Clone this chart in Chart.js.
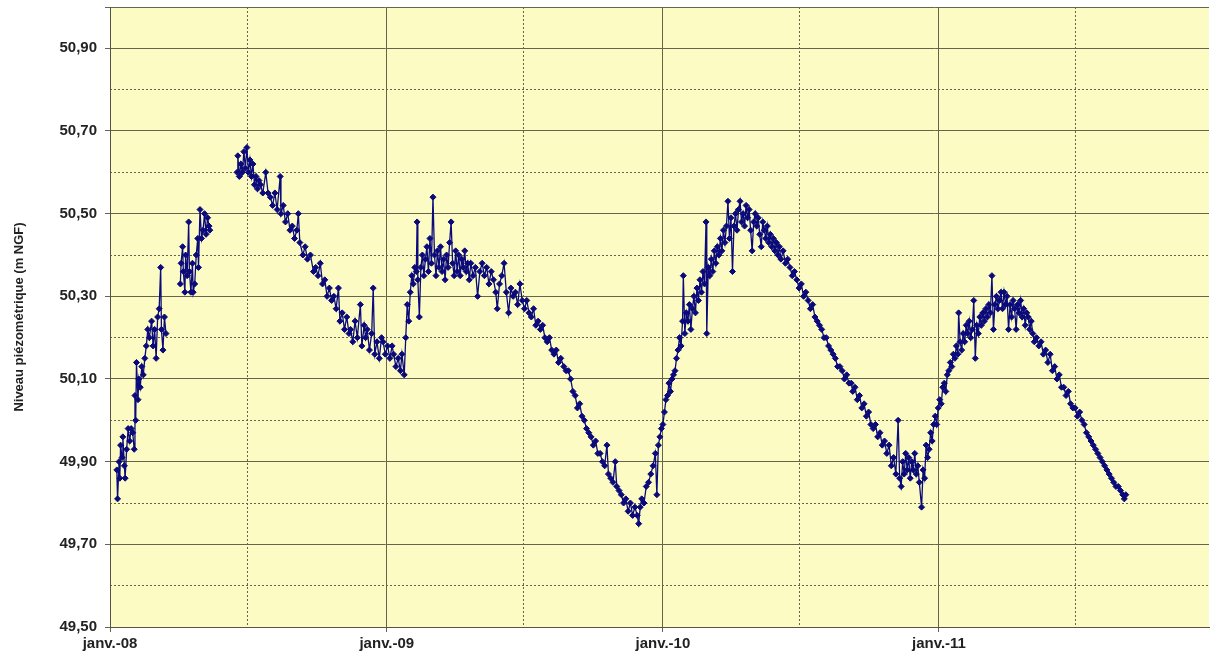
<!DOCTYPE html>
<html lang="fr">
<head>
<meta charset="utf-8">
<title>Niveau piézométrique</title>
<script src="https://cdn.jsdelivr.net/npm/chart.js@4.4.1/dist/chart.umd.min.js"></script>
<style>
    html, body { margin: 0; padding: 0; background: #ffffff; }
    #piezoChart { display: block; }
</style>
</head>
<body>
<canvas id="piezoChart" width="1214" height="659"></canvas>
<script>
// Jours depuis le 01/01/2008 (null = lacune de mesure)
const days = [
    9, 10, 12, 13, 14, 16, 17, 19, 20, 22, 24, 26, 28, 30, 32, 33, 34, 35, 37, 38, 40, 42, 44, 46, 48, 50, 52, 55, 57, 59, 61, 63, 65, 67, 68, 70, 72, 74,
    84,
    93, 94, 96, 97, 99, 100, 102, 104, 105, 107, 109, 110, 112, 114, 116, 117, 119, 121, 123, 125, 127, 129, 131, 132,
    150,
    168, 169, 171, 173, 175, 177, 179, 181, 183, 185, 187, 189, 191, 193, 195, 197, 199, 202, 206, 209, 212, 215, 218, 221, 225, 226, 229, 232, 235, 238, 241, 244, 247, 249, 251, 255, 258, 261, 265, 269, 272, 275, 278, 281, 284, 287, 290, 293, 296, 299,
    302, 304, 307, 310, 313, 316, 318, 321, 324, 327, 331, 333, 336, 338, 340, 343, 346, 348, 350, 353, 356, 359, 361, 364, 367, 370, 373, 375, 378, 381, 384, 386, 389, 391, 393, 395, 397, 399,
    401, 403, 405, 406, 407, 409, 411, 413, 415, 417, 419, 421, 423, 425, 427, 429, 431, 433, 435, 437, 439, 441, 443, 445, 447, 449, 451, 453, 455, 457, 459, 461, 463, 465, 467, 469, 471, 473, 475, 477, 480, 483, 486, 489, 492, 495, 498,
    501, 504, 507, 510, 512, 515, 518, 521, 524, 527, 530, 533, 536, 539, 542, 545, 548, 551, 554, 557, 560, 563, 566, 569, 572, 575, 578, 581, 584, 587, 590, 593, 596,
    600, 603, 606, 609, 612, 615, 618, 621, 624, 627, 630, 633, 636, 639, 642, 645, 648, 651, 654, 657, 659, 662, 665, 668, 670, 673, 676, 679, 682, 685, 688, 691, 694, 697, 699,
    701, 703, 706, 709, 712, 715, 718, 721, 723, 725, 727, 729, 731, 733, 735, 737, 739, 741, 743, 745, 747, 749, 751, 753, 755, 757, 758, 760, 762, 764, 766, 768, 770, 772, 774, 776, 778, 780, 782, 784, 786, 788, 789, 791, 793, 795, 797, 799,
    801, 803, 805, 807, 809, 811, 813, 815, 817, 819, 821, 823, 825, 827, 829, 831, 833, 835, 837, 839, 841, 843, 845, 847, 849, 851, 853, 855, 857, 859, 861, 863, 865, 867, 869, 871, 873, 875, 877, 879, 881, 883, 885, 887, 890, 893, 896, 899,
    902, 905, 908, 911, 914, 917, 920, 923, 926, 929, 932, 935, 938, 941, 944, 947, 950, 953, 956, 959, 962, 965, 968, 971, 974, 977, 980, 982, 985, 988, 991, 994, 997,
    1000, 1003, 1006, 1009, 1012, 1015, 1018, 1021, 1024, 1027, 1030, 1033, 1036, 1039, 1042, 1044, 1046, 1048, 1050, 1052, 1054, 1056, 1058, 1060, 1062, 1064, 1066, 1068, 1070, 1073, 1075, 1077, 1079, 1081, 1083, 1085, 1087, 1089, 1091, 1093, 1095, 1097, 1099,
    1101, 1103, 1105, 1107, 1109, 1111, 1113, 1115, 1117, 1119, 1121, 1122, 1124, 1126, 1128, 1130, 1132, 1134, 1136, 1138, 1140, 1142, 1144, 1146, 1148, 1150, 1152, 1154, 1156, 1158, 1160, 1162, 1164, 1166, 1168, 1170, 1172, 1174, 1176, 1178, 1180, 1182, 1184, 1186, 1188, 1190, 1192, 1194, 1196, 1198,
    1200, 1202, 1204, 1206, 1208, 1210, 1212, 1214, 1216, 1218, 1220, 1222, 1225, 1228, 1231, 1234, 1237, 1240, 1243, 1246, 1249, 1252, 1255, 1258, 1261, 1264, 1267, 1270, 1273, 1276, 1279, 1282, 1285, 1288, 1291, 1294, 1297,
    1300, 1303, 1306, 1309, 1312, 1315, 1318, 1321, 1324, 1327, 1330, 1333, 1336, 1339, 1341, 1343
];

// Niveau piézométrique (m NGF)
const levels = [
    49.88, 49.81, 49.90, 49.86, 49.94, 49.91, 49.96, 49.89, 49.86, 49.93, 49.98, 49.95, 49.98, 49.97, 49.93, 50.06, 50.00, 50.14, 50.05, 50.10, 50.08, 50.13, 50.11, 50.15, 50.18, 50.22, 50.20, 50.24, 50.18, 50.22, 50.15, 50.25, 50.27, 50.37, 50.22, 50.17, 50.25, 50.21,
    null,
    50.33, 50.38, 50.42, 50.36, 50.31, 50.40, 50.35, 50.48, 50.36, 50.31, 50.38, 50.31, 50.33, 50.40, 50.44, 50.37, 50.51, 50.44, 50.46, 50.50, 50.45, 50.49, 50.47, 50.46,
    null,
    50.60, 50.64, 50.59, 50.62, 50.60, 50.65, 50.61, 50.66, 50.60, 50.63, 50.59, 50.62, 50.57, 50.59, 50.56, 50.58, 50.57, 50.55, 50.60, 50.55, 50.54, 50.52, 50.55, 50.51, 50.59, 50.50, 50.52, 50.48, 50.50, 50.46, 50.47, 50.44, 50.46, 50.50, 50.43, 50.40, 50.42, 50.39, 50.40, 50.36, 50.37, 50.35, 50.38, 50.33, 50.34, 50.30, 50.32, 50.29, 50.30, 50.27,
    50.32, 50.24, 50.26, 50.22, 50.25, 50.21, 50.22, 50.19, 50.24, 50.20, 50.28, 50.18, 50.23, 50.20, 50.22, 50.17, 50.21, 50.32, 50.16, 50.19, 50.15, 50.20, 50.19, 50.16, 50.18, 50.15, 50.18, 50.16, 50.13, 50.15, 50.12, 50.16, 50.11, 50.20, 50.28, 50.24, 50.31, 50.35,
    50.33, 50.37, 50.36, 50.48, 50.34, 50.25, 50.37, 50.40, 50.35, 50.39, 50.42, 50.36, 50.44, 50.38, 50.54, 50.40, 50.35, 50.41, 50.37, 50.42, 50.36, 50.39, 50.34, 50.40, 50.37, 50.43, 50.48, 50.38, 50.35, 50.41, 50.36, 50.40, 50.35, 50.39, 50.37, 50.41, 50.36, 50.38, 50.34, 50.38, 50.35, 50.37, 50.30, 50.36, 50.38, 50.35, 50.37,
    50.33, 50.36, 50.34, 50.31, 50.27, 50.33, 50.35, 50.38, 50.31, 50.26, 50.32, 50.30, 50.31, 50.28, 50.33, 50.29, 50.27, 50.29, 50.26, 50.25, 50.27, 50.23, 50.24, 50.22, 50.23, 50.20, 50.19, 50.20, 50.17, 50.16, 50.17, 50.14, 50.15,
    50.13, 50.12, 50.12, 50.10, 50.07, 50.06, 50.03, 50.04, 50.01, 50.00, 49.98, 49.97, 49.96, 49.94, 49.95, 49.92, 49.92, 49.90, 49.89, 49.94, 49.87, 49.86, 49.85, 49.90, 49.84, 49.83, 49.82, 49.80, 49.81, 49.78, 49.80, 49.77, 49.79, 49.77, 49.75,
    49.79, 49.81, 49.80, 49.84, 49.85, 49.87, 49.89, 49.92, 49.82, 49.94, 49.96, 49.98, 49.99, 50.02, 50.05, 50.06, 50.09, 50.07, 50.10, 50.11, 50.12, 50.15, 50.17, 50.20, 50.18, 50.24, 50.35, 50.21, 50.26, 50.24, 50.28, 50.22, 50.27, 50.30, 50.26, 50.32, 50.29, 50.34, 50.31, 50.36, 50.33, 50.48, 50.21, 50.37, 50.35, 50.39, 50.36, 50.41,
    50.38, 50.42, 50.40, 50.44, 50.41, 50.46, 50.43, 50.47, 50.53, 50.44, 50.49, 50.36, 50.47, 50.50, 50.46, 50.51, 50.53, 50.48, 50.50, 50.47, 50.52, 50.49, 50.51, 50.46, 50.41, 50.48, 50.50, 50.47, 50.49, 50.45, 50.42, 50.48, 50.46, 50.44, 50.47, 50.43, 50.45, 50.42, 50.44, 50.41, 50.43, 50.40, 50.42, 50.39, 50.41, 50.38, 50.39, 50.37,
    50.35, 50.36, 50.34, 50.32, 50.33, 50.30, 50.31, 50.29, 50.27, 50.28, 50.25, 50.24, 50.23, 50.22, 50.20, 50.20, 50.18, 50.17, 50.16, 50.15, 50.13, 50.13, 50.12, 50.10, 50.11, 50.09, 50.09, 50.07, 50.08, 50.05, 50.06, 50.03, 50.04,
    50.01, 50.02, 49.99, 49.98, 49.99, 49.96, 49.97, 49.94, 49.95, 49.92, 49.94, 49.89, 49.91, 49.87, 50.00, 49.86, 49.84, 49.90, 49.87, 49.92, 49.88, 49.91, 49.86, 49.90, 49.88, 49.92, 49.87, 49.89, 49.85, 49.79, 49.88, 49.86, 49.94, 49.91, 49.93, 49.97, 49.95, 49.99, 50.01, 49.99, 50.03, 50.05, 50.04,
    50.08, 50.09, 50.07, 50.11, 50.12, 50.14, 50.13, 50.16, 50.15, 50.18, 50.16, 50.26, 50.19, 50.17, 50.21, 50.19, 50.23, 50.21, 50.24, 50.20, 50.22, 50.29, 50.15, 50.23, 50.21, 50.25, 50.23, 50.26, 50.24, 50.27, 50.25, 50.28, 50.26, 50.35, 50.22, 50.28, 50.30, 50.27, 50.29, 50.31, 50.27, 50.31, 50.28, 50.30, 50.22, 50.28, 50.25, 50.29, 50.27, 50.22,
    50.28, 50.26, 50.29, 50.25, 50.27, 50.23, 50.26, 50.25, 50.22, 50.24, 50.21, 50.19, 50.20, 50.18, 50.19, 50.16, 50.17, 50.14, 50.16, 50.12, 50.13, 50.10, 50.11, 50.08, 50.08, 50.06, 50.07, 50.04, 50.03, 50.03, 50.01, 50.02, 50.00, 49.99, 49.97, 49.96, 49.95,
    49.94, 49.93, 49.92, 49.91, 49.90, 49.89, 49.88, 49.87, 49.86, 49.85, 49.84, 49.84, 49.83, 49.82, 49.81, 49.82
];

// Graduations de l'axe des temps (jours depuis le 01/01/2008)
const yearTicks = [0, 366, 731, 1096];
const yearLabels = ['janv.-08', 'janv.-09', 'janv.-10', 'janv.-11'];
const halfYearTicks = [182, 547, 912, 1277];
const lastDay = 1453;

// Graduations de l'axe des niveaux
const levelTicks = [49.5, 49.7, 49.9, 50.1, 50.3, 50.5, 50.7, 50.9, 51.0];
const levelMinorTicks = [49.6, 49.8, 50.0, 50.2, 50.4, 50.6, 50.8];

const gridColor = '#66644a';
const seriesColor = '#0a0a7a';

const plotBackground = {
    id: 'plotBackground',
    beforeDraw(chart) {
        const { ctx, chartArea } = chart;
        ctx.save();
        ctx.fillStyle = '#fdfbc4';
        ctx.fillRect(chartArea.left, chartArea.top, chartArea.right - chartArea.left, chartArea.bottom - chartArea.top);
        ctx.restore();
    }
};

const points = days.map((d, i) => ({ x: d, y: levels[i] }));

const piezoCtx = document.getElementById('piezoChart').getContext('2d');
const piezoChart = new Chart(piezoCtx, {
    type: 'line',
    data: {
        datasets: [{
            label: 'Niveau piézométrique',
            data: points,
            borderColor: seriesColor,
            backgroundColor: seriesColor,
            borderWidth: 1.3,
            pointStyle: 'rectRot',
            pointRadius: 3,
            pointBorderWidth: 1,
            spanGaps: false,
            tension: 0
        }]
    },
    options: {
        responsive: false,
        animation: false,
        layout: {
            padding: { left: 0, top: 7, right: 0, bottom: 0 }
        },
        plugins: {
            legend: { display: false },
            tooltip: { enabled: false }
        },
        scales: {
            xMinor: {
                type: 'linear',
                position: 'bottom',
                min: 0,
                max: lastDay,
                afterBuildTicks: (scale) => { scale.ticks = halfYearTicks.map(v => ({ value: v })); },
                afterFit: (scale) => { scale.height = 0; scale.paddingLeft = 0; scale.paddingRight = 0; },
                ticks: { display: false },
                grid: { color: gridColor, lineWidth: 1, drawTicks: false },
                border: { display: false, dash: [2, 2] }
            },
            x: {
                type: 'linear',
                position: 'bottom',
                min: 0,
                max: lastDay,
                afterBuildTicks: (scale) => { scale.ticks = yearTicks.map(v => ({ value: v })); },
                afterFit: (scale) => { scale.height = 32; scale.paddingLeft = 0; scale.paddingRight = 0; },
                ticks: {
                    maxRotation: 0,
                    autoSkip: false,
                    padding: 3,
                    color: '#222222',
                    font: { family: 'Liberation Sans, Arial, sans-serif', size: 15, weight: 'bold' },
                    callback: (value) => {
                        const i = yearTicks.indexOf(value);
                        return i >= 0 ? yearLabels[i] : '';
                    }
                },
                grid: { color: gridColor, lineWidth: 1, drawTicks: true, tickLength: 5, tickColor: gridColor },
                border: { display: true, color: '#555544', width: 1 }
            },
            yMinor: {
                type: 'linear',
                position: 'left',
                min: 49.5,
                max: 51.0,
                afterBuildTicks: (scale) => { scale.ticks = levelMinorTicks.map(v => ({ value: v })); },
                afterFit: (scale) => { scale.width = 0; scale.paddingTop = 0; scale.paddingBottom = 0; },
                ticks: { display: false },
                grid: { color: gridColor, lineWidth: 1, drawTicks: false },
                border: { display: false, dash: [2, 2] }
            },
            y: {
                type: 'linear',
                position: 'left',
                min: 49.5,
                max: 51.0,
                afterBuildTicks: (scale) => { scale.ticks = levelTicks.map(v => ({ value: v })); },
                afterFit: (scale) => { scale.width = 110; scale.paddingTop = 0; scale.paddingBottom = 0; },
                ticks: {
                    autoSkip: false,
                    padding: 8,
                    color: '#222222',
                    font: { family: 'Liberation Sans, Arial, sans-serif', size: 15, weight: 'bold' },
                    callback: (value) => value >= 51 ? '' : value.toFixed(2).replace('.', ',')
                },
                grid: { color: gridColor, lineWidth: 1, drawTicks: true, tickLength: 5, tickColor: gridColor },
                border: { display: true, color: '#555544', width: 1 },
                title: {
                    display: true,
                    text: 'Niveau piézométrique (m NGF)',
                    color: '#222222',
                    font: { family: 'Liberation Sans, Arial, sans-serif', size: 13, weight: 'bold' },
                    padding: { top: 12, bottom: 0 }
                }
            }
        }
    },
    plugins: [plotBackground]
});
</script>
</body>
</html>
